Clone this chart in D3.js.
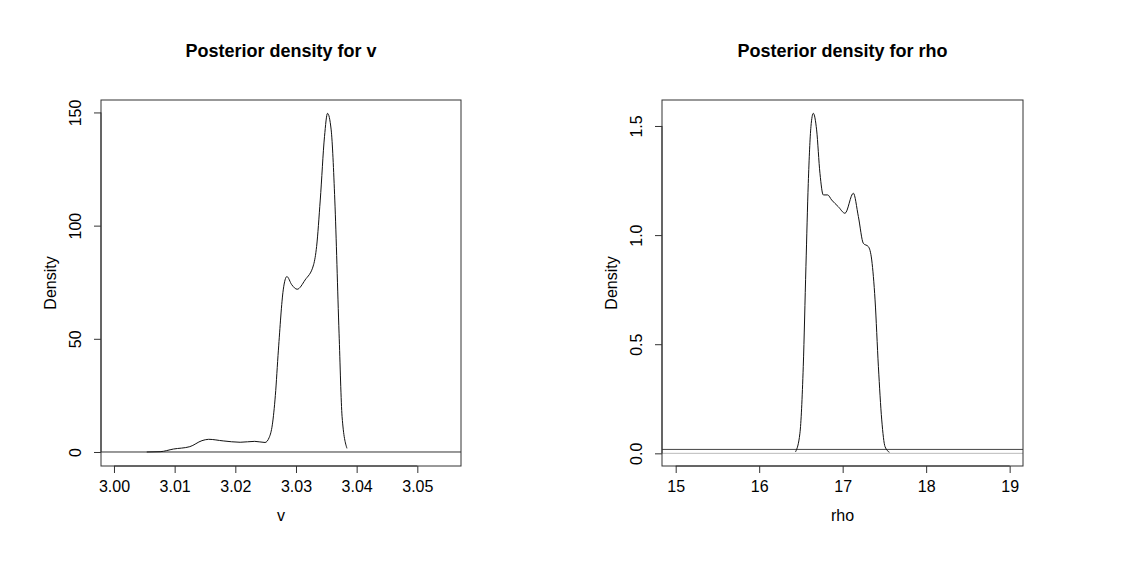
<!DOCTYPE html>
<html>
<head>
<meta charset="utf-8">
<script src="https://cdn.jsdelivr.net/npm/d3@7"></script>
<style>
  body { margin: 0; background: #fff; }
  text { font-family: "Liberation Sans", Arial, Helvetica, sans-serif; fill: #000; }
</style>
</head>
<body>
<div id="chart"></div>
<script>
// posterior density for v
const vGrid = [3.0054, 3.0076, 3.0098, 3.0125, 3.0145, 3.0156, 3.0180, 3.0208, 3.0232, 3.0249,
               3.0256, 3.0261, 3.0266, 3.0271, 3.0279, 3.0285, 3.0293, 3.0302, 3.0315, 3.0329, 3.0334,
               3.0340, 3.0347, 3.0352, 3.0358, 3.0364, 3.0371, 3.0376, 3.0384];
const vDensity = [0, 0.13, 1.3, 2.35, 5.0, 5.6, 4.9, 4.3, 4.7, 4.2,
                  6.5, 12, 25, 45, 71.6, 77.5, 73.9, 71.9, 76.0, 82.7, 90.8,
                  111.3, 139.3, 149.6, 142.3, 111.3, 52.5, 15.6, 1.6];

// posterior density for rho
const rhoGrid = [16.436, 16.488, 16.528, 16.560, 16.588, 16.620, 16.648, 16.688, 16.728, 16.768,
                 16.820, 16.868, 16.948, 17.028, 17.128, 17.188, 17.248, 17.308, 17.348, 17.388,
                 17.428, 17.468, 17.508, 17.560];
const rhoDensity = [0.007, 0.092, 0.397, 0.855, 1.237, 1.497, 1.558, 1.482, 1.283, 1.184,
                    1.184, 1.161, 1.130, 1.100, 1.192, 1.085, 0.962, 0.947, 0.886, 0.703,
                    0.397, 0.153, 0.030, 0.005];

const vTicksX = [3.00, 3.01, 3.02, 3.03, 3.04, 3.05];
const vTicksY = [0, 50, 100, 150];
const rhoTicksX = [15, 16, 17, 18, 19];
const rhoTicksY = [0.0, 0.5, 1.0, 1.5];
const rhoPriorLevel = 0.018;

const W = 1123, H = 567;
const svg = d3.select("#chart").append("svg")
    .attr("width", W).attr("height", H)
    .attr("viewBox", [0, 0, W, H]);

function panel(opts) {
    const { left, right, top, bottom } = opts.box;
    const x = d3.scaleLinear().domain(opts.xDomain).range([left, right]);
    const y = d3.scaleLinear().domain(opts.yDomain).range([bottom, top]);
    const g = svg.append("g");

    // reference lines
    opts.hlines.forEach(h => {
        g.append("line")
            .attr("x1", left).attr("x2", right)
            .attr("y1", y(h.value)).attr("y2", y(h.value))
            .attr("stroke", h.color).attr("stroke-width", 1);
    });

    // density curve
    const pts = opts.xs.map((d, i) => [d, opts.ys[i]]);
    g.append("path")
        .datum(pts)
        .attr("fill", "none")
        .attr("stroke", "#111")
        .attr("stroke-width", 1)
        .attr("d", d3.line().x(d => x(d[0])).y(d => y(d[1])).curve(d3.curveMonotoneX));

    // box
    g.append("rect")
        .attr("x", left).attr("y", top)
        .attr("width", right - left).attr("height", bottom - top)
        .attr("fill", "none").attr("stroke", "#333").attr("stroke-width", 1);

    // x axis
    const gx = g.append("g").attr("transform", `translate(0,${bottom})`)
        .call(d3.axisBottom(x).tickValues(opts.xTicks).tickSize(7).tickPadding(8)
            .tickFormat(opts.xFormat));
    // y axis
    const gy = g.append("g").attr("transform", `translate(${left},0)`)
        .call(d3.axisLeft(y).tickValues(opts.yTicks).tickSize(7).tickPadding(0)
            .tickFormat(opts.yFormat));
    [gx, gy].forEach(a => {
        a.select(".domain").attr("stroke", "#333");
        a.selectAll(".tick line").attr("stroke", "#333");
        a.selectAll(".tick text").style("font-size", "16px").attr("fill", "#000");
    });
    gx.select(".domain").attr("d", `M${x(opts.xTicks[0])},0H${x(opts.xTicks[opts.xTicks.length - 1])}`);
    gy.select(".domain").attr("d", `M0,${y(opts.yTicks[0])}V${y(opts.yTicks[opts.yTicks.length - 1])}`);
    gy.selectAll(".tick text")
        .attr("x", null).attr("dy", null)
        .attr("text-anchor", "middle")
        .attr("transform", "translate(-20,0) rotate(-90)");

    const cx = (left + right) / 2;
    g.append("text")
        .attr("x", cx).attr("y", 57)
        .attr("text-anchor", "middle")
        .style("font-size", "18px").style("font-weight", "bold")
        .text(opts.title);
    g.append("text")
        .attr("x", cx).attr("y", 521)
        .attr("text-anchor", "middle")
        .style("font-size", "16px")
        .text(opts.xLabel);
    g.append("text")
        .attr("transform", `translate(${left - 45},${(top + bottom) / 2}) rotate(-90)`)
        .attr("text-anchor", "middle")
        .style("font-size", "16px")
        .text("Density");
}

panel({
    box: { left: 101, right: 461, top: 100, bottom: 466 },
    xDomain: [2.99786, 3.0572],
    yDomain: [-6.19, 155.5],
    xs: vGrid, ys: vDensity,
    xTicks: vTicksX, yTicks: vTicksY,
    xFormat: d3.format(".2f"), yFormat: d3.format("d"),
    hlines: [{ value: 0, color: "#333" }],
    title: "Posterior density for v",
    xLabel: "v"
});

panel({
    box: { left: 662, right: 1023, top: 100, bottom: 466 },
    xDomain: [14.836, 19.16],
    yDomain: [-0.058, 1.619],
    xs: rhoGrid, ys: rhoDensity,
    xTicks: rhoTicksX, yTicks: rhoTicksY,
    xFormat: d3.format("d"), yFormat: d3.format(".1f"),
    hlines: [{ value: 0, color: "#bbb" }, { value: rhoPriorLevel, color: "#444" }],
    title: "Posterior density for rho",
    xLabel: "rho"
});
</script>
</body>
</html>
